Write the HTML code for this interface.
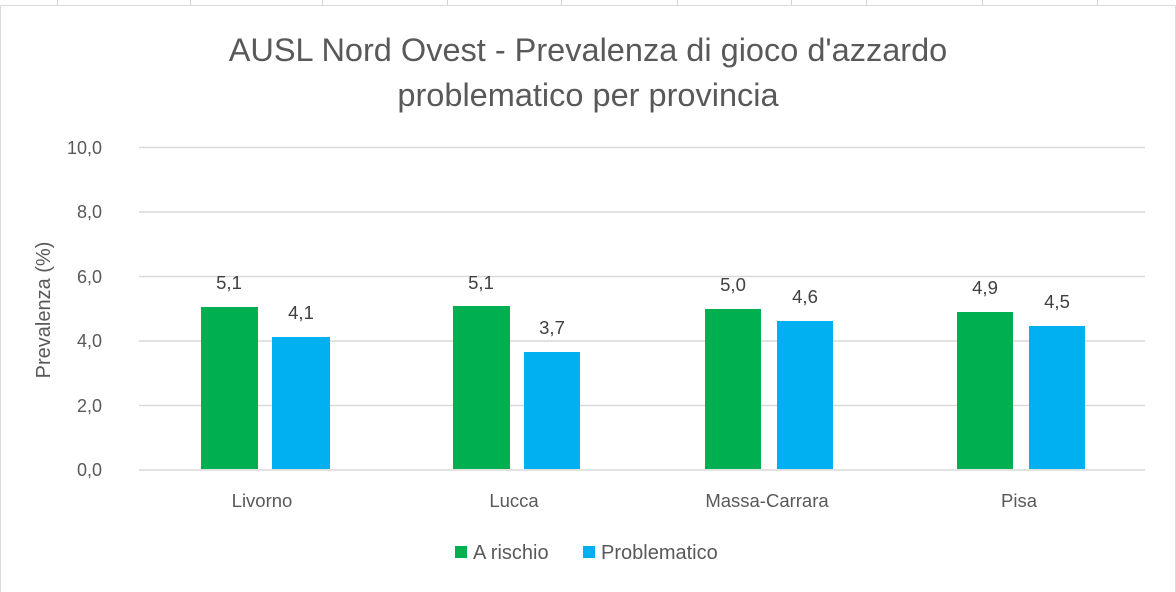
<!DOCTYPE html>
<html><head><meta charset="utf-8"><style>
html,body{margin:0;padding:0;background:#fff;}
svg{display:block;font-family:"Liberation Sans",sans-serif;}
</style></head><body>
<svg width="1176" height="592" viewBox="0 0 1176 592" xmlns="http://www.w3.org/2000/svg">
<rect width="1176" height="592" fill="#fff"/>
<g stroke="#d4d4d4" stroke-width="1">
<line x1="57.5" y1="0" x2="57.5" y2="5"/><line x1="190.5" y1="0" x2="190.5" y2="5"/><line x1="322.5" y1="0" x2="322.5" y2="5"/><line x1="447.5" y1="0" x2="447.5" y2="5"/><line x1="561.5" y1="0" x2="561.5" y2="5"/><line x1="677.5" y1="0" x2="677.5" y2="5"/><line x1="791.5" y1="0" x2="791.5" y2="5"/><line x1="866.5" y1="0" x2="866.5" y2="5"/><line x1="982.5" y1="0" x2="982.5" y2="5"/><line x1="1097.5" y1="0" x2="1097.5" y2="5"/>
</g>
<rect x="0.5" y="5.5" width="1175" height="600" fill="none" stroke="#d9d9d9"/>
<g fill="#595959" text-anchor="middle" font-size="32.5">
<text x="588" y="61">AUSL Nord Ovest - Prevalenza di gioco d'azzardo</text>
<text x="588" y="106">problematico per provincia</text>
</g>
<g stroke="#d9d9d9" stroke-width="1.5">
<line x1="139" y1="147.5" x2="1145" y2="147.5"/>
<line x1="139" y1="212" x2="1145" y2="212"/>
<line x1="139" y1="276.5" x2="1145" y2="276.5"/>
<line x1="139" y1="341" x2="1145" y2="341"/>
<line x1="139" y1="405.5" x2="1145" y2="405.5"/>
<line x1="139" y1="470" x2="1145" y2="470"/>
</g>
<g fill="#595959" font-size="18" text-anchor="end">
<text x="102" y="154">10,0</text><text x="102" y="218">8,0</text><text x="102" y="283">6,0</text><text x="102" y="347">4,0</text><text x="102" y="412">2,0</text><text x="102" y="476">0,0</text>
</g>
<text transform="translate(50,310) rotate(-90)" fill="#595959" font-size="20" text-anchor="middle">Prevalenza (%)</text>
<g fill="#00b050">
<rect x="201" y="307" width="57" height="162"/><rect x="453" y="306" width="57" height="163"/><rect x="705" y="309" width="56" height="160"/><rect x="957" y="312" width="56" height="157"/>
</g>
<g fill="#00b0f0">
<rect x="272" y="337" width="58" height="132"/><rect x="524" y="352" width="56" height="117"/><rect x="777" y="321" width="56" height="148"/><rect x="1029" y="326" width="56" height="143"/>
</g>
<g fill="#404040" font-size="18.5" text-anchor="middle">
<text x="229" y="289">5,1</text><text x="301" y="319">4,1</text>
<text x="481" y="289">5,1</text><text x="552" y="334">3,7</text>
<text x="733" y="291">5,0</text><text x="805" y="303">4,6</text>
<text x="985" y="294">4,9</text><text x="1057" y="308">4,5</text>
</g>
<g fill="#595959" font-size="18.5" text-anchor="middle">
<text x="262" y="507">Livorno</text><text x="514" y="507">Lucca</text><text x="767" y="507">Massa-Carrara</text><text x="1019" y="507">Pisa</text>
</g>
<rect x="455" y="546" width="12" height="12" fill="#00b050"/>
<text x="473" y="559" fill="#595959" font-size="20">A rischio</text>
<rect x="583" y="546" width="12" height="12" fill="#00b0f0"/>
<text x="601" y="559" fill="#595959" font-size="20">Problematico</text>
</svg>
</body></html>
